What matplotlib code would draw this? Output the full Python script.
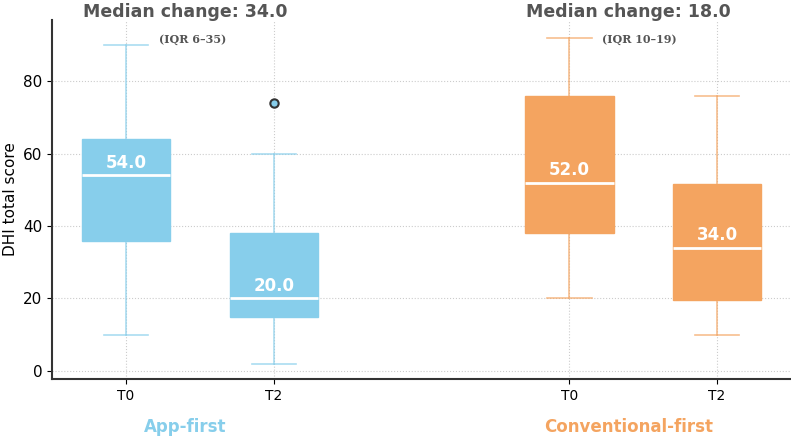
import matplotlib
matplotlib.use("Agg")
import matplotlib.pyplot as plt

# values
groups = ["App-first", "Conventional-first"]
timepoints = ["T0", "T2"]
positions = [0, 1, 3, 4]
box_low = [36, 15, 38, 19.5]
box_high = [64, 38, 76, 51.5]
medians = [54.0, 20.0, 52.0, 34.0]
whisk_low = [10, 2, 20, 10]
whisk_high = [90, 60, 92, 76]
outliers = [[], [74], [], []]
median_change = [34.0, 18.0]
iqr_text = ["(IQR 6\u201335)", "(IQR 10\u201319)"]

blue = "#87CEEB"
orange = "#F4A460"
colors = [blue, blue, orange, orange]

fig = plt.figure(figsize=(7.91, 4.40), dpi=100)
ax = fig.add_axes([0.066, 0.139, 0.934, 0.816])

stats = []
for i in range(len(positions)):
    stats.append(dict(q1=box_low[i], q3=box_high[i], med=medians[i],
                      whislo=whisk_low[i], whishi=whisk_high[i], fliers=outliers[i]))

for i, st in enumerate(stats):
    c = colors[i]
    ax.bxp([st], positions=[positions[i]], widths=0.6, patch_artist=True,
           boxprops=dict(facecolor=c, edgecolor=c),
           whiskerprops=dict(color=c, alpha=0.7, linewidth=1.2),
           capprops=dict(color=c, alpha=0.7, linewidth=1.2),
           medianprops=dict(color="white", linewidth=2),
           flierprops=dict(marker="o", markerfacecolor=c, markeredgecolor="#333333",
                           markersize=6, markeredgewidth=1.5),
           showfliers=True)
    ax.text(positions[i], medians[i] + 1, f"{medians[i]:.1f}", ha="center", va="bottom",
            color="white", fontsize=12, fontweight="bold")

ax.set_xlim(-0.5, 4.5)
ax.set_ylim(-2.2, 97)
ax.set_xticks(positions)
ax.set_xticklabels(timepoints * 2, fontsize=10)
ax.set_yticks([0, 20, 40, 60, 80])
ax.tick_params(axis="y", labelsize=11)
ax.set_ylabel("DHI total score", fontsize=11)
ax.grid(True, linestyle=":", color="#cccccc", linewidth=0.8)
ax.set_axisbelow(True)
for s in ["top", "right"]:
    ax.spines[s].set_visible(False)
for s in ["left", "bottom"]:
    ax.spines[s].set_color("#333333")
    ax.spines[s].set_linewidth(1.5)

group_x = [0.4, 3.4]
group_colors = [blue, orange]
for g in range(2):
    ax.text(group_x[g], 1.022, f"Median change: {median_change[g]:.1f}",
            transform=ax.get_xaxis_transform(), ha="center", va="center",
            fontsize=12.5, fontweight="bold", color="#555555")
    ax.text(positions[2 * g] + 0.22, 91.5, iqr_text[g], ha="left", va="center",
            fontsize=8, fontweight="bold", family="DejaVu Serif", color="#555555")
    fig.text((ax.get_position().x0 + (group_x[g] + 0.5) / 5 * ax.get_position().width), 0.03,
             groups[g], ha="center", va="center", fontsize=12, fontweight="bold",
             color=group_colors[g])

fig.savefig("out.png", dpi=100)
